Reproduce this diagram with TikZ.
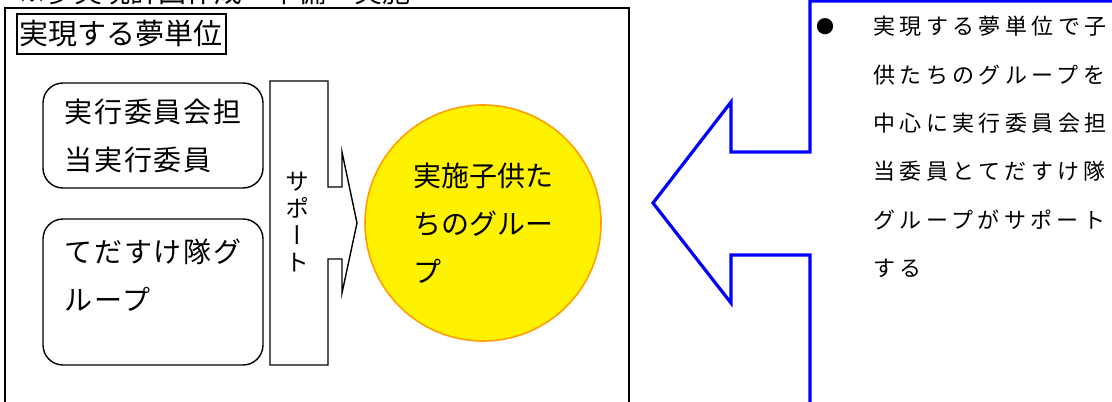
\documentclass[tikz,border=0pt]{standalone}
\usepackage{fontspec}
\setmainfont{Noto Sans CJK JP}
\usepackage{tikz}
\usetikzlibrary{positioning}
\definecolor{daidai}{RGB}{255,160,0}
\tikzstyle{kadomaru} = [rectangle, rounded corners=10pt, minimum width=110pt, draw=black, line width=0.7pt, inner sep=0pt]
\tikzstyle{moji} = [align=left, inner sep=0pt, font=\fontsize{14pt}{24pt}\selectfont\addfontfeature{LetterSpace=6}]
\tikzstyle{waku} = [draw=black, line width=0.7pt]
\tikzstyle{aoya} = [draw=blue, line width=1.6pt]

\begin{document}
\begin{tikzpicture}[x=0.5pt, y=-0.5pt]
        \useasboundingbox (0,0) rectangle (1112,401);
        \node (midashi) [anchor=base west, inner sep=0pt, font=\fontsize{14pt}{24pt}\selectfont] at (18,3) {※夢実現計画作成→準備→実施};
        \draw [waku] (5,420) -- (5,8) -- (629,8) -- (629,420);
        \node (tani) [draw, line width=1pt, inner xsep=1.5pt, inner ysep=3.5pt, minimum height=19pt, font=\fontsize{14.5pt}{24pt}\selectfont] at (121,34) {実現する夢単位};

        \node (iinkai) [kadomaru, moji, minimum height=52.5pt] at (153,135.5) {実行委員会担\\当実行委員};
        \node (tasuke) [kadomaru, minimum height=73pt] at (153,292) {};
        \node (tasukemoji) [moji, below right=10pt and 11pt of tasuke.north west] {てだすけ隊グ\\ループ};

        \draw [waku] (328,81) -- (328,187) -- (342,187) -- (342,152) -- (357,223) -- (342,293) -- (342,259) -- (328,259) -- (328,365) -- (270,365) -- (270,81) -- cycle;
        \node (sapoto) [align=center, inner sep=0pt, font=\fontsize{12pt}{13.5pt}\selectfont\addfontfeature{RawFeature=+vert}] at (297,222) {サ\\ポ\\ー\\ト};

        \node (kodomo) [circle, fill=yellow, draw=daidai, line width=0.8pt, minimum size=118pt, align=left, inner sep=0pt, font=\fontsize{14pt}{24pt}\selectfont] at (483,223) {実施子供た\\ちのグルー\\プ};

        \draw [aoya] (1130,1) -- (810,1) -- (810,152) -- (731,152) -- (731,102) -- (653,203) -- (731,303) -- (731,255) -- (810,255) -- (810,420);
        \node (kuroten) [inner sep=0pt, font=\fontsize{9pt}{9pt}\selectfont] at (825,27) {●};
        \node (setsumei) [anchor=north west, align=left, inner sep=0pt, font=\fontsize{11pt}{24.15pt}\selectfont\addfontfeature{LetterSpace=20}] at (873,16) {実現する夢単位で子\\供たちのグループを\\中心に実行委員会担\\当委員とてだすけ隊\\グループがサポート\\する};
\end{tikzpicture}
\end{document}
